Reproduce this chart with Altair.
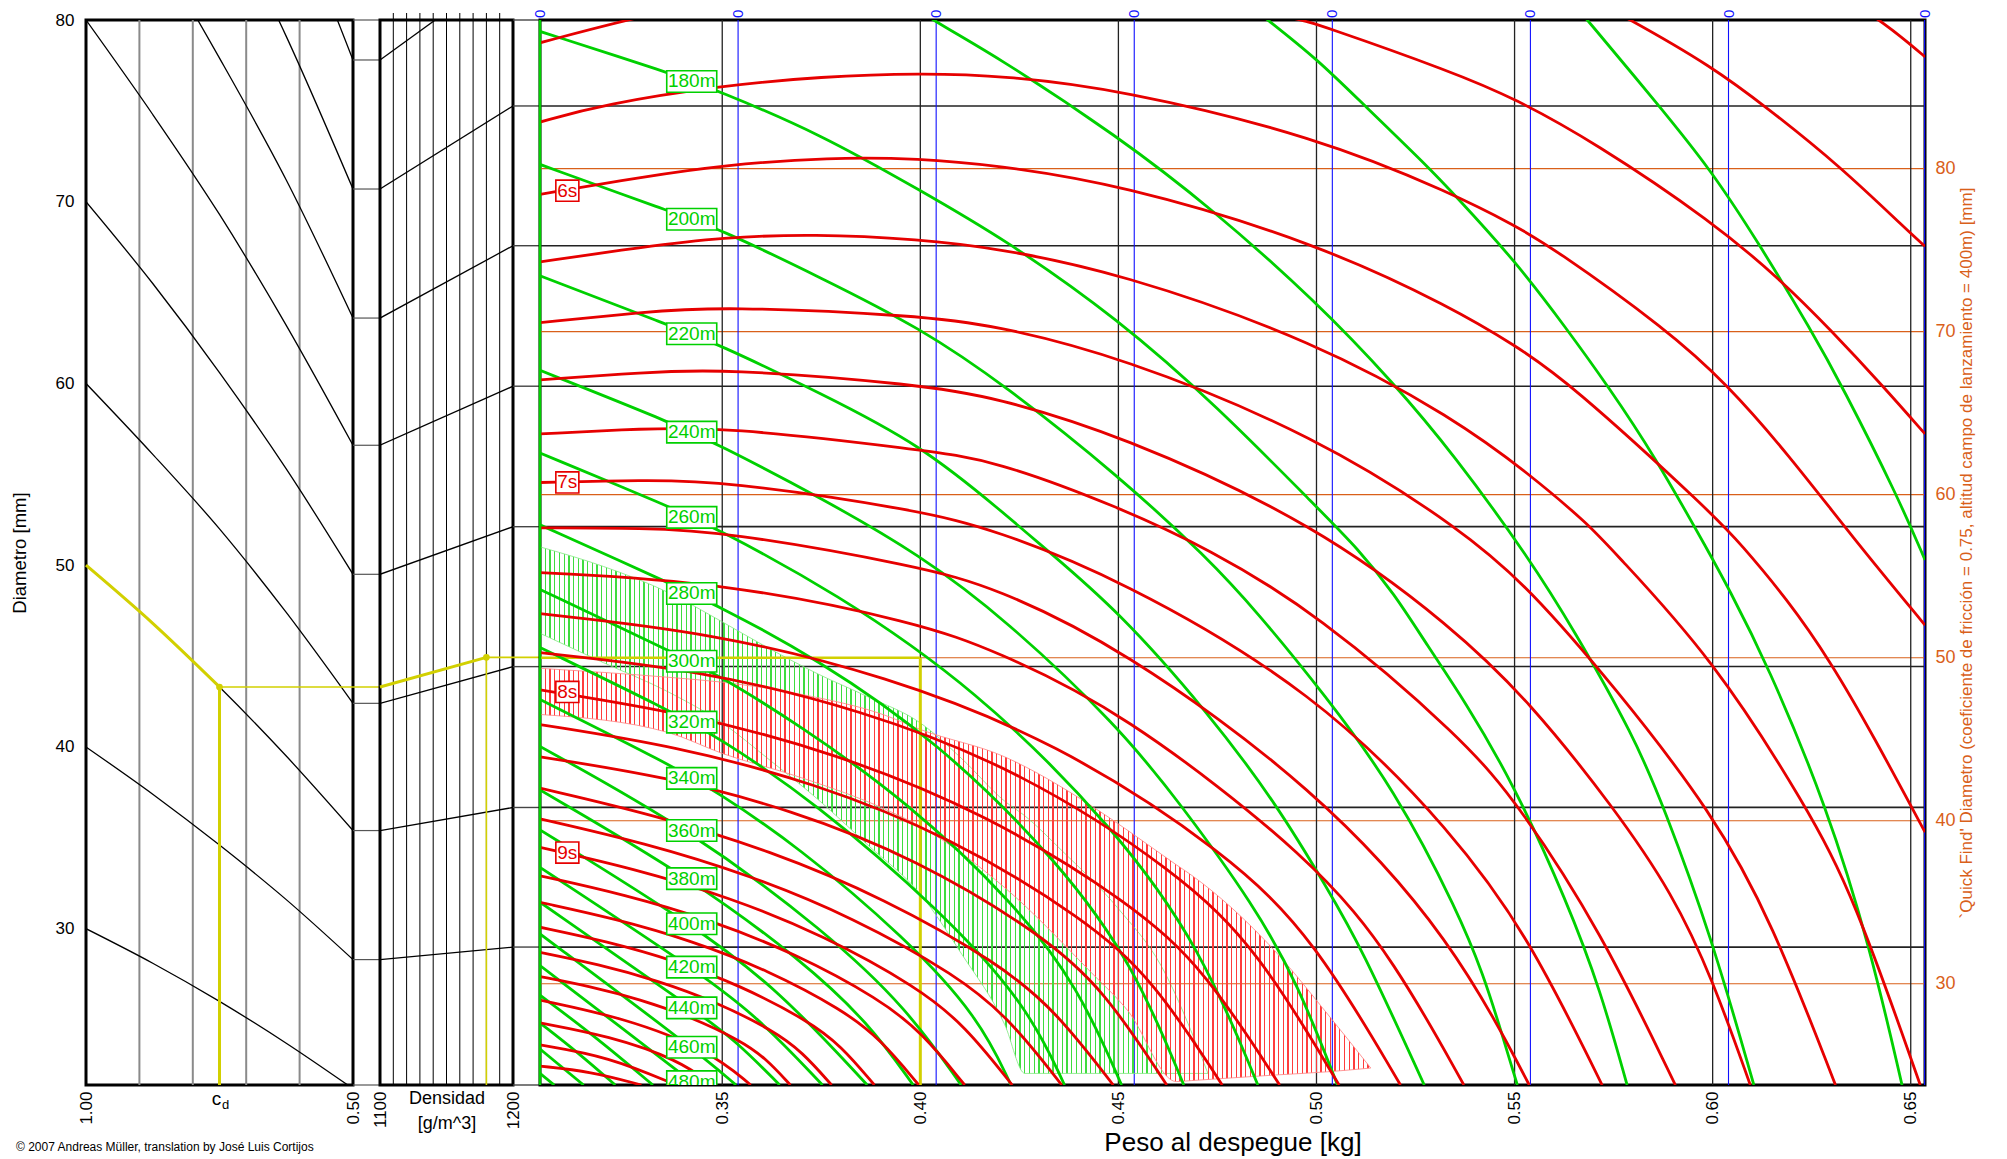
import altair as alt
import pandas as pd

FONT = "Liberation Sans, Arial, sans-serif"
RED = "#e60000"
GREEN = "#00d000"
ORANGE = "#d9601a"
BLUE = "#1010ff"
YELLOW = "#d2d000"

W_LEFT, W_DENS, W_MAIN, H, GAP = 267, 133, 1385, 1065, 27

# ---------------- left panel : drag coefficient ----------------
CD_DOMAIN = [0.5, 1.0]
D_DOMAIN = [21.4, 80.0]
CD_TICK_VALUES = [1.0, 0.5]
CD_GRID = [0.9, 0.8, 0.7, 0.6]
D_TICK_VALUES = [30, 40, 50, 60, 70, 80]
CD_STEPS = [1.0, 0.875, 0.75, 0.625, 0.5]
D_110 = [110.0, 102.9, 95.3, 87.0, 77.8]
D_100 = [100.0, 93.5, 86.6, 79.1, 70.7]
D_90 = [90.0, 84.2, 77.9, 71.2, 63.6]
D_80 = [80.0, 74.8, 69.3, 63.2, 56.6]
D_70 = [70.0, 65.5, 60.6, 55.3, 49.5]
D_60 = [60.0, 56.1, 52.0, 47.4, 42.4]
D_50 = [50.0, 46.8, 43.3, 39.5, 35.4]
D_40 = [40.0, 37.4, 34.6, 31.6, 28.3]
D_30 = [30.0, 28.1, 26.0, 23.7, 21.2]
GAP1_STUBS = [80.0, 77.8, 70.7, 63.6, 56.6, 49.5, 42.4, 35.4, 28.3, 21.4]
EX_CD = [1.0, 0.875, 0.75]
EX_D = [50.0, 46.8, 43.3]

# ---------------- middle panel : density ----------------
DENS_DOMAIN = [1100, 1200]
DENS_TICK_VALUES = [1100, 1200]
DENS_GRID = [1110, 1120, 1130, 1140, 1150, 1160, 1170, 1180, 1190]
DENS_LEFT = [77.8, 70.7, 63.6, 56.6, 49.5, 42.4, 35.4, 28.3]
DENS_RIGHT = [83.1, 75.27, 67.58, 59.85, 52.12, 44.42, 36.67, 28.99]
GAP2_STUBS = [80.0, 75.27, 67.58, 59.85, 52.12, 44.42, 36.67, 28.99, 21.4]
EX_DENS = [1100, 1180]
EX_DENS_D = [43.3, 44.93]

# ---------------- main panel : take-off weight ----------------
W_DOMAIN = [0.304, 0.6536]
R_DOMAIN = [23.79, 89.12]
W_TICK_VALUES = [0.35, 0.40, 0.45, 0.50, 0.55, 0.60, 0.65]
BLUE_W = [0.304, 0.354, 0.404, 0.454, 0.504, 0.554, 0.604, 0.6535]
BLUE_LABELS = ["0", "0", "0", "0", "0", "0", "0", "0"]
R_TICK_VALUES = [30, 40, 50, 60, 70, 80]
BLACK_R = [83.84, 75.27, 66.65, 58.04, 49.46, 40.82, 32.25]
EX_W = [0.304, 0.40]
EX_R = 50.0
RIGHT_TITLE = "`Quick Find' Diametro (coeficiente de fricción = 0.75, altitud campo de lanzamiento = 400m) [mm]"

# flight time curves (w [kg], quick-find diameter)
RED_5_2 = [(0.630, 91.0), (0.6423, 89.12), (0.650, 87.61), (0.6536, 86.86)]
RED_5_4 = [(0.560, 91.6), (0.5793, 89.15), (0.600, 86.23), (0.6133, 83.82), (0.6322, 80.15), (0.6496, 76.10), (0.6536, 75.24)]
RED_5_6 = [(0.304, 87.72), (0.3255, 89.12), (0.36, 91.0), (0.41, 92.0), (0.46, 91.2), (0.4961, 89.12), (0.50, 88.89),
           (0.5347, 85.9), (0.55, 84.31), (0.57, 81.64), (0.60, 76.74), (0.6175, 73.11), (0.6297, 70.13), (0.6432, 66.61), (0.6536, 63.73)]
RED_5_8 = [(0.304, 82.86), (0.32, 83.95), (0.35, 85.10), (0.375, 85.65), (0.40, 85.86), (0.4213, 85.69), (0.45, 84.88), (0.50, 81.96),
           (0.5347, 78.44), (0.55, 76.52), (0.5591, 75.24), (0.5885, 70.13), (0.6037, 66.76), (0.6188, 62.56), (0.6356, 57.3), (0.6536, 52.0)]
RED_6_0 = [(0.304, 78.42), (0.33, 79.5), (0.35, 80.21), (0.377, 80.7), (0.40, 80.62), (0.4188, 80.21), (0.45, 79.08), (0.50, 75.46),
           (0.5347, 71.41), (0.55, 69.17), (0.5633, 67.0), (0.60, 58.83), (0.607, 57.0), (0.6188, 53.6), (0.6297, 49.8), (0.6406, 45.2), (0.6536, 39.3)]
RED_6_2 = [(0.304, 74.28), (0.33, 75.2), (0.35, 75.78), (0.373, 76.0), (0.40, 75.67), (0.4188, 75.14), (0.45, 73.65), (0.50, 69.38),
           (0.5347, 64.69), (0.5537, 61.28), (0.5691, 58.08), (0.5742, 56.71), (0.60, 50.0), (0.6238, 40.83), (0.6356, 35.39), (0.6524, 23.79)]
RED_6_4 = [(0.304, 70.55), (0.33, 71.2), (0.35, 71.56), (0.40, 70.98), (0.4188, 70.38), (0.45, 68.53), (0.50, 63.62), (0.5373, 57.76),
           (0.5537, 54.26), (0.575, 48.3), (0.60, 40.5), (0.615, 33.8), (0.631, 23.79)]
RED_6_6 = [(0.304, 67.04), (0.33, 67.5), (0.35, 67.74), (0.40, 66.76), (0.4188, 65.97), (0.45, 63.73), (0.50, 58.19), (0.5347, 51.81),
           (0.5537, 47.33), (0.575, 40.83), (0.59, 35.5), (0.60, 30.27), (0.6095, 23.79)]
RED_6_8 = [(0.304, 63.73), (0.33, 64.05), (0.35, 64.16), (0.40, 62.77), (0.4188, 62.11), (0.45, 59.25), (0.4726, 56.71), (0.50, 52.77),
           (0.5373, 44.98), (0.5515, 40.83), (0.5717, 33.26), (0.5906, 23.79)]
RED_7_0 = [(0.304, 60.75), (0.33, 60.9), (0.35, 60.85), (0.40, 59.04), (0.4188, 57.83), (0.45, 54.9), (0.50, 47.9), (0.5347, 39.23),
           (0.5537, 32.83), (0.5721, 23.79)]
RED_7_2 = [(0.304, 57.97), (0.33, 57.95), (0.35, 57.76), (0.40, 55.6), (0.4188, 54.3), (0.45, 50.74), (0.50, 42.0), (0.5347, 32.62), (0.5537, 23.79)]
RED_7_4 = [(0.304, 55.22), (0.35, 54.64), (0.40, 52.13), (0.4188, 50.42), (0.45, 46.9), (0.50, 37.5), (0.52, 31.3), (0.5372, 23.79)]
RED_7_6 = [(0.304, 52.70), (0.3474, 51.54), (0.3909, 48.94), (0.4343, 44.89), (0.4778, 37.96), (0.4995, 32.75), (0.5212, 23.79)]
RED_7_8 = [(0.304, 50.31), (0.3443, 49.25), (0.3847, 46.86), (0.4250, 43.15), (0.4654, 36.78), (0.4855, 32.01), (0.5057, 23.79)]
RED_8_0 = [(0.304, 48.03), (0.3413, 46.58), (0.3787, 44.15), (0.4160, 40.52), (0.4534, 34.94), (0.4720, 30.82), (0.4907, 23.79)]
RED_8_2 = [(0.304, 45.90), (0.3384, 44.57), (0.3729, 42.36), (0.4073, 39.05), (0.4418, 33.96), (0.4590, 30.20), (0.4762, 23.79)]
RED_8_4 = [(0.304, 43.92), (0.3356, 42.71), (0.3673, 40.70), (0.3989, 37.68), (0.4306, 33.05), (0.4464, 29.63), (0.4622, 23.79)]
RED_8_6 = [(0.304, 42.00), (0.3329, 40.36), (0.3619, 38.18), (0.3908, 35.26), (0.4198, 31.26), (0.4342, 28.34), (0.4487, 23.79)]
RED_8_8 = [(0.304, 40.12), (0.3303, 38.65), (0.3567, 36.69), (0.3830, 34.08), (0.4094, 30.49), (0.4225, 27.87), (0.4357, 23.79)]
RED_9_0 = [(0.304, 38.37), (0.3278, 37.06), (0.3517, 35.31), (0.3755, 32.98), (0.3994, 29.77), (0.4113, 27.43), (0.4232, 23.79)]
RED_9_2 = [(0.304, 36.62), (0.3254, 35.47), (0.3469, 33.93), (0.3683, 31.87), (0.3898, 29.05), (0.4005, 27.0), (0.4112, 23.79)]
RED_9_4 = [(0.304, 35.00), (0.3231, 33.99), (0.3422, 32.65), (0.3614, 30.85), (0.3805, 28.39), (0.3900, 26.59), (0.3996, 23.79)]
RED_9_6 = [(0.304, 33.47), (0.3209, 32.60), (0.3378, 31.44), (0.3546, 29.89), (0.3715, 27.76), (0.3800, 26.21), (0.3884, 23.79)]
RED_9_8 = [(0.304, 31.93), (0.3187, 31.20), (0.3334, 30.22), (0.3482, 28.92), (0.3629, 27.13), (0.3702, 25.82), (0.3776, 23.79)]
RED_10_0 = [(0.304, 30.44), (0.3166, 29.84), (0.3293, 29.04), (0.3419, 27.98), (0.3546, 26.52), (0.3609, 25.45), (0.3672, 23.79)]
RED_10_2 = [(0.304, 29.0), (0.3253, 27.91), (0.3466, 25.93), (0.3572, 23.79)]
RED_10_4 = [(0.304, 27.6), (0.3214, 26.80), (0.3389, 25.35), (0.3476, 23.79)]
RED_10_6 = [(0.304, 26.25), (0.3212, 25.54), (0.3384, 23.79)]
RED_10_8 = [(0.304, 24.95), (0.3168, 24.62), (0.3296, 23.79)]

# altitude curves
GREEN_120 = [(0.56, 91.5), (0.5684, 89.12), (0.5864, 83.88), (0.5995, 79.94), (0.6112, 75.6), (0.6251, 70.0), (0.6327, 66.65), (0.6465, 60.0), (0.6536, 56.0)]
GREEN_140 = [(0.478, 91.0), (0.4877, 89.12), (0.50, 86.76), (0.5121, 83.88), (0.5280, 80.15), (0.5347, 78.44), (0.55, 74.39), (0.5633, 70.13),
             (0.5734, 66.72), (0.5852, 62.45), (0.5995, 56.27), (0.6037, 54.4), (0.6137, 49.67), (0.6289, 40.83), (0.6398, 32.19), (0.6478, 23.79)]
GREEN_160 = [(0.392, 91.0), (0.4028, 89.12), (0.4188, 86.97), (0.45, 81.96), (0.4734, 77.59), (0.50, 71.83), (0.5196, 66.82), (0.5347, 62.45),
             (0.5537, 56.1), (0.5650, 51.7), (0.5801, 45.2), (0.5877, 40.83), (0.5995, 33.04), (0.6104, 23.79)]
GREEN_180 = [(0.304, 88.42), (0.3364, 85.9), (0.3488, 84.8), (0.375, 82.1), (0.40, 78.66), (0.4213, 75.67), (0.45, 70.77), (0.475, 65.4),
             (0.50, 59.25), (0.5104, 56.71), (0.5196, 53.94), (0.528, 50.74), (0.5373, 47.4), (0.5499, 42.2), (0.5633, 35.0), (0.5717, 29.6), (0.5784, 23.79)]
GREEN_200 = [(0.304, 80.26), (0.3364, 77.4), (0.3488, 76.37), (0.375, 73.3), (0.40, 70.23), (0.4213, 66.72), (0.45, 61.17), (0.4726, 56.1),
             (0.4852, 52.75), (0.502, 47.75), (0.5196, 42.0), (0.536, 34.3), (0.5423, 30.4), (0.5457, 27.8), (0.5507, 23.79)]
GREEN_220 = [(0.304, 73.43), (0.3364, 70.4), (0.3488, 69.27), (0.375, 66.2), (0.40, 63.09), (0.4213, 58.83), (0.4314, 56.71), (0.45, 52.87),
             (0.4725, 46.69), (0.4902, 40.93), (0.5028, 35.81), (0.5112, 32.3), (0.5272, 23.79)]
GREEN_240 = [(0.304, 67.63), (0.3364, 64.5), (0.3488, 63.1), (0.375, 59.8), (0.40, 56.3), (0.4213, 52.4), (0.45, 45.8), (0.4658, 41.0),
             (0.4843, 34.8), (0.4953, 30.0), (0.5053, 23.79)]
GREEN_260 = [(0.304, 62.56), (0.3364, 59.3), (0.3488, 57.9), (0.378, 54.08), (0.4138, 48.16), (0.4495, 39.46), (0.4709, 32.15), (0.4852, 23.79)]
GREEN_280 = [(0.304, 58.15), (0.3364, 54.6), (0.3488, 53.2), (0.3734, 50.02), (0.4044, 44.89), (0.4355, 37.36), (0.4541, 31.04), (0.4665, 23.79)]
GREEN_300 = [(0.304, 54.19), (0.3364, 50.45), (0.3488, 48.98), (0.3694, 45.88), (0.3966, 41.20), (0.4237, 34.97), (0.44, 29.77), (0.4508, 23.79)]
GREEN_320 = [(0.304, 50.63), (0.3364, 46.8), (0.3488, 45.15), (0.3734, 41.15), (0.4053, 34.47), (0.427, 28.69), (0.4364, 23.79)]
GREEN_340 = [(0.304, 47.44), (0.3364, 43.5), (0.3488, 41.75), (0.3689, 38.46), (0.3963, 32.82), (0.4148, 27.93), (0.4229, 23.79)]
GREEN_360 = [(0.304, 44.56), (0.3423, 39.4), (0.3763, 33.16), (0.3967, 28.47), (0.4103, 23.79)]
GREEN_380 = [(0.304, 41.89), (0.3423, 36.45), (0.3703, 31.39), (0.387, 27.59), (0.3982, 23.79)]
GREEN_400 = [(0.304, 39.44), (0.3423, 33.68), (0.3645, 29.58), (0.3866, 23.79)]
GREEN_420 = [(0.304, 37.14), (0.3423, 31.02), (0.3588, 28.02), (0.3753, 23.79)]
GREEN_440 = [(0.304, 35.0), (0.3423, 28.52), (0.3534, 26.52), (0.3645, 23.79)]
GREEN_460 = [(0.304, 33.06), (0.3423, 26.11), (0.3535, 23.79)]
GREEN_480 = [(0.304, 31.12), (0.3423, 24.0), (0.3433, 23.79)]
GREEN_500 = [(0.304, 29.3), (0.318, 26.75), (0.3325, 23.79)]
GREEN_520 = [(0.304, 27.6), (0.3135, 25.8), (0.323, 23.79)]
GREEN_540 = [(0.304, 26.0), (0.315, 23.79)]
GREEN_560 = [(0.304, 24.5), (0.3076, 23.79)]

GREEN_LABELS = ["180m", "200m", "220m", "240m", "260m", "280m", "300m", "320m", "340m", "360m", "380m", "400m", "420m", "440m", "460m", "480m"]
GREEN_LABEL_R = [85.35, 76.9, 69.87, 63.84, 58.61, 53.94, 49.78, 46.05, 42.6, 39.4, 36.45, 33.68, 31.02, 28.52, 26.11, 24.0]
GREEN_LABEL_W = 0.3423
RED_LABELS = ["6s", "7s", "8s", "9s"]
RED_LABEL_R = [78.65, 60.75, 47.9, 38.05]
RED_LABEL_W = 0.3109

# uncertainty bands
RED_BAND_W = [0.304, 0.3364, 0.35, 0.37, 0.391, 0.40, 0.4213, 0.4431, 0.4524, 0.4646, 0.4684, 0.4894, 0.5028, 0.5137]
RED_BAND_UP = [49.35, 48.8, 48.5, 47.75, 46.48, 45.6, 43.92, 40.93, 39.4, 37.3, 36.67, 32.04, 28.14, 24.83]
RED_BAND_LO = [46.52, 45.41, 44.13, 42.64, 40.72, 39.65, 35.9, 30.7, 28.34, 24.0, 24.06, 24.4, 24.6, 24.83]
GREEN_BAND_W = [0.304, 0.32, 0.3364, 0.35, 0.3616, 0.3742, 0.3868, 0.40, 0.4105, 0.4213, 0.4264, 0.4356, 0.45, 0.4608, 0.4726]
GREEN_BAND_UP = [56.8, 55.6, 54.0, 52.2, 50.6, 49.0, 47.6, 46.0, 43.8, 41.2, 40.3, 38.2, 34.6, 31.1, 24.5]
GREEN_BAND_LO = [51.5, 49.7, 47.9, 46.0, 43.8, 41.3, 38.5, 35.5, 31.8, 27.5, 24.5, 24.5, 24.5, 24.5, 24.5]

COPYRIGHT = "© 2007 Andreas Müller, translation by José Luis Cortijos"

# ================= build tables =================
CD_CURVES = [("110", D_110), ("100", D_100), ("90", D_90), ("80", D_80), ("70", D_70),
             ("60", D_60), ("50", D_50), ("40", D_40), ("30", D_30)]
cd_df = pd.DataFrame([{"id": n, "cd": c, "D": d} for n, vals in CD_CURVES for c, d in zip(CD_STEPS, vals)])
ex_left_df = pd.DataFrame({"cd": EX_CD, "D": EX_D})

RED_CURVES = [("5.2", RED_5_2), ("5.4", RED_5_4), ("5.6", RED_5_6), ("5.8", RED_5_8), ("6.0", RED_6_0), ("6.2", RED_6_2),
              ("6.4", RED_6_4), ("6.6", RED_6_6), ("6.8", RED_6_8), ("7.0", RED_7_0), ("7.2", RED_7_2), ("7.4", RED_7_4),
              ("7.6", RED_7_6), ("7.8", RED_7_8), ("8.0", RED_8_0), ("8.2", RED_8_2), ("8.4", RED_8_4), ("8.6", RED_8_6),
              ("8.8", RED_8_8), ("9.0", RED_9_0), ("9.2", RED_9_2), ("9.4", RED_9_4), ("9.6", RED_9_6), ("9.8", RED_9_8),
              ("10.0", RED_10_0), ("10.2", RED_10_2), ("10.4", RED_10_4), ("10.6", RED_10_6), ("10.8", RED_10_8)]
GREEN_CURVES = [("120", GREEN_120), ("140", GREEN_140), ("160", GREEN_160), ("180", GREEN_180), ("200", GREEN_200),
                ("220", GREEN_220), ("240", GREEN_240), ("260", GREEN_260), ("280", GREEN_280), ("300", GREEN_300),
                ("320", GREEN_320), ("340", GREEN_340), ("360", GREEN_360), ("380", GREEN_380), ("400", GREEN_400),
                ("420", GREEN_420), ("440", GREEN_440), ("460", GREEN_460), ("480", GREEN_480), ("500", GREEN_500),
                ("520", GREEN_520), ("540", GREEN_540), ("560", GREEN_560)]


def curve_table(curves):
    return pd.DataFrame([{"id": n, "w": w, "R": r} for n, pts in curves for w, r in pts])


red_df = curve_table(RED_CURVES)
green_df = curve_table(GREEN_CURVES)
red_band_df = pd.DataFrame({"w": RED_BAND_W, "R": RED_BAND_UP, "R2": RED_BAND_LO})
green_band_df = pd.DataFrame({"w": GREEN_BAND_W, "R": GREEN_BAND_UP, "R2": GREEN_BAND_LO})
glab_df = pd.DataFrame({"w": [GREEN_LABEL_W] * len(GREEN_LABELS), "R": GREEN_LABEL_R, "t": GREEN_LABELS})
rlab_df = pd.DataFrame({"w": [RED_LABEL_W] * len(RED_LABELS), "R": RED_LABEL_R, "t": RED_LABELS})

# ================= axes / encodings =================
LEFT_XAXIS = alt.Axis(values=CD_TICK_VALUES, format=".2f", labelAngle=270, labelFontSize=17, labelPadding=6,
                      labelFlush=False, domain=False, ticks=False, grid=False, title=None, labelColor="black")
LEFT_YAXIS = alt.Axis(values=D_TICK_VALUES, labelFontSize=17, labelPadding=12, domain=False, ticks=False, grid=False,
                      title="Diametro [mm]", titleFontSize=18.5, titleFontWeight="normal", titlePadding=26,
                      labelColor="black", titleColor="black")
DENS_XAXIS = alt.Axis(values=DENS_TICK_VALUES, format="d", labelAngle=270, labelFontSize=17, labelPadding=6,
                      labelFlush=False, domain=False, ticks=False, grid=False, title=["Densidad", "[g/m^3]"],
                      titleFontSize=18, titleFontWeight="normal", titleY=4, titleBaseline="top", titleLineHeight=25,
                      labelColor="black", titleColor="black")
MAIN_XAXIS = alt.Axis(values=W_TICK_VALUES, format=".2f", labelAngle=270, labelFontSize=17, labelPadding=6,
                      labelFlush=False, domain=False, ticks=False, grid=False, title="Peso al despegue [kg]",
                      titleFontSize=26, titleFontWeight="normal", titlePadding=5, labelColor="black", titleColor="black")
MAIN_YAXIS = alt.Axis(orient="right", values=R_TICK_VALUES, labelFontSize=18, labelColor=ORANGE, labelPadding=10,
                      domain=False, ticks=False, grid=False, title=RIGHT_TITLE, titleColor=ORANGE, titleFontSize=17,
                      titleFontWeight="normal", titleAngle=270, titlePadding=20)

SC_CD = alt.Scale(domain=CD_DOMAIN, reverse=True, nice=False, zero=False)
SC_D = alt.Scale(domain=D_DOMAIN, nice=False, zero=False)
SC_DENS = alt.Scale(domain=DENS_DOMAIN, nice=False, zero=False)
SC_W = alt.Scale(domain=W_DOMAIN, nice=False, zero=False)
SC_R = alt.Scale(domain=R_DOMAIN, nice=False, zero=False)


def XL(f="cd"):
    return alt.X(f"{f}:Q", scale=SC_CD, axis=LEFT_XAXIS)


def YL(f="D"):
    return alt.Y(f"{f}:Q", scale=SC_D, axis=LEFT_YAXIS)


def XD(f="dens"):
    return alt.X(f"{f}:Q", scale=SC_DENS, axis=DENS_XAXIS)


def YD(f="D"):
    return alt.Y(f"{f}:Q", scale=SC_D, axis=None)


def XM(f="w"):
    return alt.X(f"{f}:Q", scale=SC_W, axis=MAIN_XAXIS)


def YM(f="R"):
    return alt.Y(f"{f}:Q", scale=SC_R, axis=MAIN_YAXIS)


def hatch(color, width_px, period=4.7, line=1.3):
    clear = "rgba(255,255,255,0)"
    stops = []
    k = 0
    while k * period < width_px:
        a = k * period / width_px
        b = min((k * period + line) / width_px, 1.0)
        c = min((k + 1) * period / width_px, 1.0)
        stops += [alt.GradientStop(color=color, offset=a), alt.GradientStop(color=color, offset=b),
                  alt.GradientStop(color=clear, offset=b), alt.GradientStop(color=clear, offset=c)]
        k += 1
    return alt.LinearGradient(gradient="linear", stops=stops, x1=0, x2=1, y1=0, y2=0)


# ================= left panel =================
L = []
L.append(alt.Chart(pd.DataFrame({"cd": CD_GRID})).mark_rule(color="#8a8a8a", strokeWidth=2).encode(x=XL()))
L.append(alt.Chart(cd_df).mark_line(color="black", strokeWidth=1.3, clip=True, interpolate="monotone")
         .encode(x=XL(), y=YL(), detail="id:N"))
L.append(alt.Chart(pd.DataFrame({"D": GAP1_STUBS, "cd": [0.5] * len(GAP1_STUBS)})).mark_rule(color="#555", strokeWidth=1.2)
         .encode(x=XL(), x2=alt.value(W_LEFT + GAP), y=YL()))
L.append(alt.Chart(ex_left_df).mark_line(color=YELLOW, strokeWidth=3, interpolate="monotone").encode(x=XL(), y=YL()))
L.append(alt.Chart(pd.DataFrame({"cd": [EX_CD[-1]], "D": [EX_D[-1]], "D0": [D_DOMAIN[0]]})).mark_rule(color=YELLOW, strokeWidth=3)
         .encode(x=XL(), y=YL(), y2="D0:Q"))
L.append(alt.Chart(pd.DataFrame({"cd": [EX_CD[-1]], "D": [EX_D[-1]]})).mark_rule(color=YELLOW, strokeWidth=1.6)
         .encode(x=XL(), x2=alt.value(W_LEFT + GAP), y=YL()))
L.append(alt.Chart(pd.DataFrame({"cd": [EX_CD[-1]], "D": [EX_D[-1]]})).mark_point(filled=True, color=YELLOW, size=45, opacity=1)
         .encode(x=XL(), y=YL()))
L.append(alt.Chart(pd.DataFrame({"cd": [0.75], "t": ["c"]})).mark_text(fontSize=19, color="black", dx=-3, baseline="middle")
         .encode(x=XL(), y=alt.value(H + 14), text="t:N"))
L.append(alt.Chart(pd.DataFrame({"cd": [0.75], "t": ["d"]})).mark_text(fontSize=13, color="black", dx=6, align="center", baseline="middle")
         .encode(x=XL(), y=alt.value(H + 20), text="t:N"))
L.append(alt.Chart(pd.DataFrame({"t": [COPYRIGHT]})).mark_text(fontSize=12, color="black", align="left", baseline="middle")
         .encode(x=alt.value(-70), y=alt.value(H + 62), text="t:N"))
left = alt.layer(*L).properties(width=W_LEFT, height=H)

# ================= density panel =================
M = []
M.append(alt.Chart(pd.DataFrame({"dens": DENS_GRID})).mark_rule(color="black", strokeWidth=1)
         .encode(x=XD(), y=alt.value(-7), y2=alt.value(H)))
M.append(alt.Chart(pd.DataFrame({"dens": [1100] * len(DENS_LEFT), "dens2": [1200] * len(DENS_LEFT), "D": DENS_LEFT, "D2": DENS_RIGHT}))
         .mark_rule(color="black", strokeWidth=1.3, clip=True).encode(x=XD(), x2="dens2:Q", y=YD(), y2="D2:Q"))
M.append(alt.Chart(pd.DataFrame({"dens": [1200] * len(GAP2_STUBS), "D": GAP2_STUBS})).mark_rule(color="#444", strokeWidth=1.4)
         .encode(x=XD(), x2=alt.value(W_DENS + GAP), y=YD()))
M.append(alt.Chart(pd.DataFrame({"dens": [EX_DENS[0]], "dens2": [EX_DENS[1]], "D": [EX_DENS_D[0]], "D2": [EX_DENS_D[1]]}))
         .mark_rule(color=YELLOW, strokeWidth=3).encode(x=XD(), x2="dens2:Q", y=YD(), y2="D2:Q"))
M.append(alt.Chart(pd.DataFrame({"dens": [EX_DENS[1]], "D": [EX_DENS_D[1]], "D0": [D_DOMAIN[0]]}))
         .mark_rule(color=YELLOW, strokeWidth=1.6).encode(x=XD(), y=YD(), y2="D0:Q"))
M.append(alt.Chart(pd.DataFrame({"dens": [EX_DENS[1]], "D": [EX_DENS_D[1]]}))
         .mark_rule(color=YELLOW, strokeWidth=1.6).encode(x=XD(), x2=alt.value(W_DENS + GAP), y=YD()))
M.append(alt.Chart(pd.DataFrame({"dens": [EX_DENS[1]], "D": [EX_DENS_D[1]]}))
         .mark_point(filled=True, color=YELLOW, size=45, opacity=1).encode(x=XD(), y=YD()))
dens = alt.layer(*M).properties(width=W_DENS, height=H)

# ================= main panel =================
N = []
N.append(alt.Chart(pd.DataFrame({"R": R_TICK_VALUES})).mark_rule(color=ORANGE, strokeWidth=1.2).encode(y=YM()))
N.append(alt.Chart(pd.DataFrame({"R": BLACK_R})).mark_rule(color="#222", strokeWidth=1.6).encode(y=YM()))
N.append(alt.Chart(pd.DataFrame({"w": W_TICK_VALUES})).mark_rule(color="#222", strokeWidth=1.3).encode(x=XM()))
N.append(alt.Chart(pd.DataFrame({"w": BLUE_W})).mark_rule(color=BLUE, strokeWidth=1.1).encode(x=XM()))
N.append(alt.Chart(green_band_df).mark_area(fill=hatch("#3fdc3f", (GREEN_BAND_W[-1] - GREEN_BAND_W[0]) * 3961),
                                             stroke="#7fe87f", strokeWidth=0.8, opacity=1, interpolate="monotone")
         .encode(x=XM(), y=YM(), y2="R2:Q"))
N.append(alt.Chart(red_band_df).mark_area(fill=hatch("#ff3c3c", (RED_BAND_W[-1] - RED_BAND_W[0]) * 3961),
                                           stroke="#ff8080", strokeWidth=0.8, opacity=1, interpolate="monotone")
         .encode(x=XM(), y=YM(), y2="R2:Q"))
N.append(alt.Chart(pd.DataFrame({"w": [EX_W[0]], "w2": [EX_W[1]], "R": [EX_R]})).mark_rule(color=YELLOW, strokeWidth=2.6)
         .encode(x=XM(), x2="w2:Q", y=YM()))
N.append(alt.Chart(pd.DataFrame({"w": [EX_W[1]], "R": [EX_R], "R0": [R_DOMAIN[0]]})).mark_rule(color=YELLOW, strokeWidth=3)
         .encode(x=XM(), y=YM(), y2="R0:Q"))
N.append(alt.Chart(green_df).mark_line(color=GREEN, strokeWidth=2.8, clip=True, interpolate="basis")
         .encode(x=XM(), y=YM(), detail="id:N"))
N.append(alt.Chart(red_df).mark_line(color=RED, strokeWidth=2.8, clip=True, interpolate="basis")
         .encode(x=XM(), y=YM(), detail="id:N"))
N.append(alt.Chart(pd.DataFrame({"w": [W_DOMAIN[0]]})).mark_rule(color=GREEN, strokeWidth=2.5).encode(x=XM()))
N.append(alt.Chart(glab_df).mark_point(shape="M-1,-0.43L1,-0.43L1,0.43L-1,0.43Z", size=2500, filled=True, fill="white",
                                       stroke=GREEN, strokeWidth=1.6, opacity=1, clip=True)
         .encode(x=XM(), y=YM()))
N.append(alt.Chart(glab_df).mark_text(fontSize=19, color=GREEN, baseline="middle", clip=True)
         .encode(x=XM(), y=YM(), text="t:N"))
N.append(alt.Chart(rlab_df).mark_point(shape="M-1,-0.92L1,-0.92L1,0.92L-1,0.92Z", size=529, filled=True, fill="white",
                                       stroke=RED, strokeWidth=1.6, opacity=1)
         .encode(x=XM(), y=YM()))
N.append(alt.Chart(rlab_df).mark_text(fontSize=19, color=RED, baseline="middle")
         .encode(x=XM(), y=YM(), text="t:N"))
N.append(alt.Chart(pd.DataFrame({"w": BLUE_W, "t": BLUE_LABELS})).mark_text(fontSize=15, color=BLUE, angle=270, align="left", baseline="middle")
         .encode(x=XM(), y=alt.value(-2), text="t:N"))
main = alt.layer(*N).properties(width=W_MAIN, height=H)

chart = (alt.hconcat(left, dens, main, spacing=GAP, bounds="flush")
         .properties(padding=0, background="white")
         .configure(font=FONT)
         .configure_view(stroke="black", strokeWidth=3))

chart.save("out.html", embed_options={"renderer": "svg", "actions": False})
